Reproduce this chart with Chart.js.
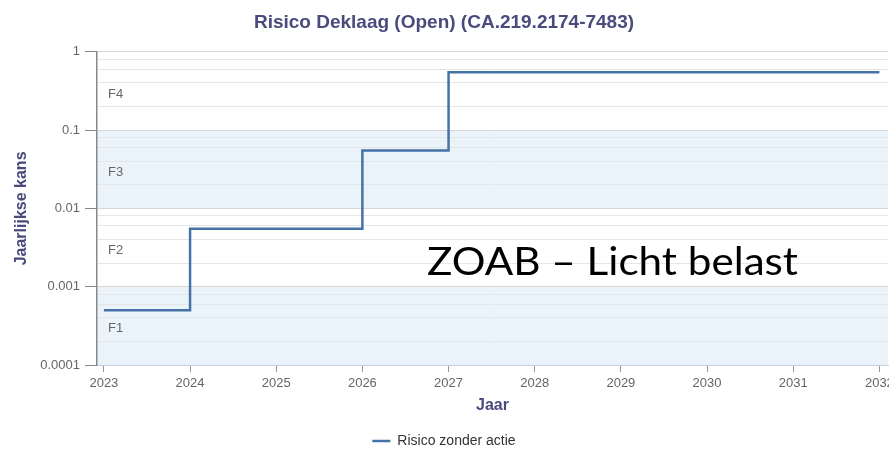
<!DOCTYPE html>
<html>
<head>
<meta charset="utf-8">
<script src="https://cdn.jsdelivr.net/npm/chart.js@4/dist/chart.umd.min.js"></script>
<style>
  html, body { margin: 0; padding: 0; background: #fff; }
  #chart { display: block; }
</style>
</head>
<body>
<canvas id="chart" width="889" height="449"></canvas>
<script>
// Years on the x axis and the yearly risk per year
const years = [2023, 2024, 2025, 2026, 2027, 2028, 2029, 2030, 2031, 2032];
const risicoZonderActie = [0.0005, 0.0055, 0.0055, 0.055, 0.55, 0.55, 0.55, 0.55, 0.55, 0.55];

// Log axis ticks: decades get a label, the others are minor grid lines
const decades = [0.0001, 0.001, 0.01, 0.1, 1];
const minorSteps = [2, 4, 6, 8];

// Risk classes drawn as horizontal bands
const bandLabels = ['F1', 'F2', 'F3', 'F4'];
const bandColors = ['#ebf3fa', '#ffffff', '#ebf3fa', '#ffffff'];

const annotationText = 'ZOAB \u2013 Licht belast';

const FONT = '"Liberation Sans", Arial, sans-serif';
const TITLE_COLOR = '#4a4a7c';

function isDecade(v) {
    return decades.some(d => Math.abs(v - d) / d < 1e-6);
}

const yTickValues = [];
decades.forEach((d, i) => {
    yTickValues.push(d);
    if (i < decades.length - 1) minorSteps.forEach(m => yTickValues.push(d * m));
});

// Background bands with their class labels
const bandsPlugin = {
    id: 'bands',
    afterLayout(chart) {
        // sit the legend a little lower, close to the bottom edge
        chart.legend.top += 9;
        chart.legend.bottom += 9;
    },
    beforeDraw(chart) {
        const { ctx, chartArea } = chart;
        const y = chart.scales.y;
        ctx.save();
        for (let i = 0; i < bandLabels.length; i++) {
            const top = y.getPixelForValue(decades[i + 1]);
            const bottom = y.getPixelForValue(decades[i]);
            ctx.fillStyle = bandColors[i];
            ctx.fillRect(chartArea.left, top, chartArea.right - chartArea.left, bottom - top);
        }
        ctx.restore();
    },
    afterDatasetsDraw(chart) {
        const { ctx, chartArea } = chart;
        const y = chart.scales.y;
        ctx.save();
        ctx.font = '13px ' + FONT;
        ctx.fillStyle = '#666666';
        ctx.textBaseline = 'middle';
        for (let i = 0; i < bandLabels.length; i++) {
            const mid = y.getPixelForValue(Math.sqrt(decades[i] * decades[i + 1]));
            ctx.fillText(bandLabels[i], chartArea.left + 11, mid + 3);
        }
        // large caption over the plot, narrowed to a condensed look
        ctx.font = '39px "Lato", "Open Sans", sans-serif';
        const w = ctx.measureText(annotationText).width;
        ctx.translate(427, 275);
        ctx.scale(371 / w, 1);
        ctx.fillStyle = '#000000';
        ctx.textBaseline = 'alphabetic';
        ctx.fillText(annotationText, 0, 0);
        ctx.restore();
    }
};

new Chart(document.getElementById('chart'), {
    type: 'line',
    data: {
        datasets: [{
            label: 'Risico zonder actie',
            data: years.map((yr, i) => ({ x: yr, y: risicoZonderActie[i] })),
            borderColor: '#4572a7',
            backgroundColor: '#4572a7',
            borderWidth: 2.5,
            pointRadius: 0,
            stepped: 'before',
            fill: false
        }]
    },
    options: {
        responsive: false,
        animation: false,
        layout: { padding: { left: 0, right: 1, top: 0, bottom: 0 } },
        plugins: {
            title: {
                display: true,
                text: 'Risico Deklaag (Open) (CA.219.2174-7483)',
                color: TITLE_COLOR,
                font: { family: FONT, size: 19, weight: 'bold' },
                padding: { top: 11, bottom: 18 }
            },
            legend: {
                position: 'bottom',
                labels: {
                    usePointStyle: true,
                    pointStyle: 'line',
                    pointStyleWidth: 18,
                    color: '#333333',
                    font: { family: FONT, size: 14 },
                    padding: 2
                }
            },
            tooltip: { enabled: false }
        },
        scales: {
            x: {
                type: 'linear',
                min: 2022.92,
                max: 2032.1,
                afterBuildTicks(scale) {
                    scale.ticks = years.map(v => ({ value: v }));
                },
                afterFit(scale) {
                    scale.height = 58;
                    scale.paddingLeft = 0;
                    scale.paddingRight = 0;
                },
                ticks: {
                    color: '#666666',
                    font: { family: FONT, size: 13 },
                    padding: 4,
                    maxRotation: 0,
                    callback: v => String(v)
                },
                grid: {
                    drawOnChartArea: false,
                    tickLength: 7,
                    tickColor: '#999999'
                },
                border: { color: '#c0d0e0', width: 1 },
                title: {
                    display: true,
                    text: 'Jaar',
                    color: TITLE_COLOR,
                    font: { family: FONT, size: 16, weight: 'bold' },
                    padding: { top: 4, bottom: 8 }
                }
            },
            y: {
                type: 'logarithmic',
                min: 0.0001,
                max: 1,
                afterBuildTicks(scale) {
                    scale.ticks = yTickValues.map(v => ({ value: v }));
                },
                afterFit(scale) {
                    scale.width = 97;
                    scale.paddingTop = 0;
                    scale.paddingBottom = 0;
                },
                ticks: {
                    color: '#666666',
                    font: { family: FONT, size: 13 },
                    padding: 5,
                    autoSkip: false,
                    callback: v => isDecade(v) ? String(Number(v.toPrecision(1))) : ''
                },
                grid: {
                    color: ctx => isDecade(ctx.tick.value) ? '#d6d6d6' : '#e6e6e6',
                    tickColor: ctx => isDecade(ctx.tick.value) ? '#888888' : 'rgba(0,0,0,0)',
                    tickLength: 12
                },
                border: { color: '#888888', width: 1.5 },
                title: {
                    display: true,
                    text: 'Jaarlijkse kans',
                    color: TITLE_COLOR,
                    font: { family: FONT, size: 16, weight: 'bold' },
                    padding: { top: 12, bottom: 0 }
                }
            }
        }
    },
    plugins: [bandsPlugin]
});
</script>
</body>
</html>
